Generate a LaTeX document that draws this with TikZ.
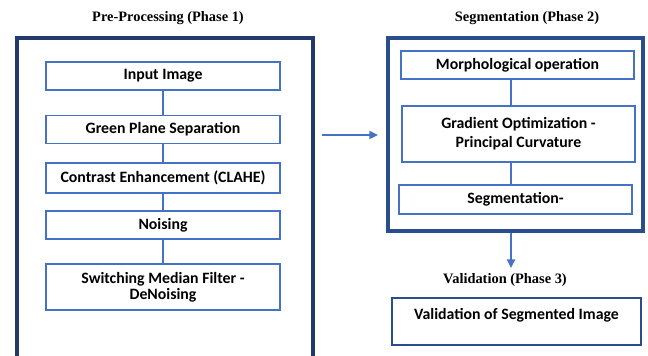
\documentclass[tikz,border=0pt]{standalone}
\usepackage{fontspec}
\newfontfamily\boxfont{Carlito}
\newfontfamily\headfont{Liberation Serif}
\usetikzlibrary{arrows.meta, positioning}
\definecolor{cframe}{HTML}{2A4D8C}
\definecolor{cdark}{HTML}{22396A}
\definecolor{cstep}{HTML}{4472C4}
\tikzset{
  every picture/.style={line width=0.8pt},
  stepbox/.style={draw=cstep, fill=white, line width=0.9pt, minimum width=7.02cm, minimum height=0.84cm,
    align=center, inner sep=2pt, font=\boxfont\bfseries\fontsize{13.5}{16.5}\selectfont},
  phase/.style={font=\headfont\bfseries\fontsize{12.3}{14}\selectfont},
  frame/.style={draw=#1, line width=2.7pt},
  frame/.default=cframe,
  link/.style={draw=cstep, line width=0.9pt},
  arrow/.style={-{Triangle[length=2.6mm, width=2.4mm]}, draw=cstep, line width=1.5pt},
}

\begin{document}
\begin{tikzpicture}[x=0.03cm, y=-0.03cm]
  \useasboundingbox (0,0) rectangle (648,355);
  % phase 1: pre-processing
  \node[phase] (t1) at (168,18) {Pre-Processing (Phase 1)};
  \draw[frame=cdark] (17,357) -- (17,38) -- (313,38) -- (313,357);
  \node[stepbox] (input) at (163,76) {Input Image};
  \node[stepbox] (green) at (163,129.5) {Green Plane Separation};
  \node[stepbox, minimum height=0.9cm] (clahe) at (163,178) {Contrast Enhancement (CLAHE)};
  \node[stepbox] (noise) at (163,225) {Noising};
  \node[stepbox, minimum height=1.38cm] (smf) at (163,287) {Switching Median Filter -\\[-3pt]DeNoising};
  \draw[link] (input) -- (green); \draw[link] (green) -- (clahe);
  \draw[link] (clahe) -- (noise); \draw[link] (noise) -- (smf);
  % phase 2: segmentation
  \node[phase] (t2) at (527,18) {Segmentation (Phase 2)};
  \node[frame, minimum width=7.65cm, minimum height=5.79cm, inner sep=0pt] (seg2) at (515.5,134.5) {};
  \node[stepbox, minimum width=6.99cm] (morph) at (517.5,65) {Morphological operation};
  \node[stepbox, minimum width=6.99cm, minimum height=1.68cm] (grad) at (518.5,134) {Gradient Optimization -\\Principal Curvature};
  \node[stepbox, minimum width=6.99cm, minimum height=0.87cm] (segm) at (515.5,199.5) {Segmentation-};
  \draw[link] (morph.south -| 511,0) -- (grad.north -| 511,0);
  \draw[link] (grad.south -| 511,0) -- (segm.north -| 511,0);
  \coordinate (from1) at (322,135);
  \coordinate (to2) at (378,135);
  \draw[arrow] (from1) -- (to2);
  % phase 3: validation
  \coordinate (down) at (511,268);
  \draw[arrow, line width=2.2pt] (seg2.south -| down) -- (down);
  \node[phase] (t3) at (505,280) {Validation (Phase 3)};
  \node[stepbox, draw=cframe, line width=2.4pt, minimum width=7.47cm, minimum height=1.41cm] (val) at (516.5,321.5)
    {Validation of Segmented Image\\[-8pt] \strut};
\end{tikzpicture}
\end{document}
